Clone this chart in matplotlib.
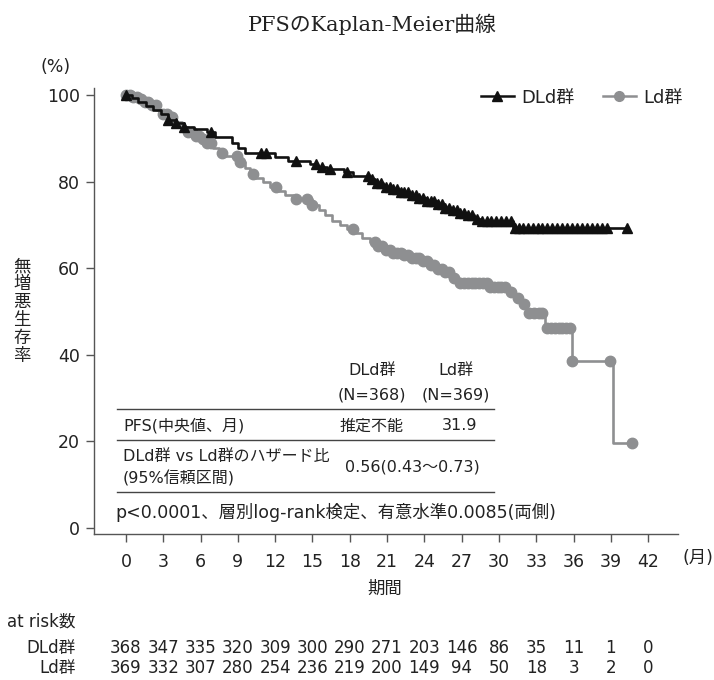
import numpy as np
import matplotlib
matplotlib.use("Agg")
import matplotlib.pyplot as plt
from matplotlib.lines import Line2D
from matplotlib.transforms import blended_transform_factory

plt.rcParams['font.family'] = ['DejaVu Sans', 'Noto Sans CJK JP']

W, H = 714, 680

# --- data ---
dld_t = [0, 0.5, 1.0, 1.6, 2.2, 2.8, 3.4, 4.0, 4.7, 5.5, 6.5, 7.2, 8.5, 9.0, 9.6,
         12.0, 13.0, 14.8, 15.4, 16.2, 17.5, 18.3, 19.6, 20.0, 20.7, 21.3, 22.0, 22.8,
         23.5, 24.2, 25.0, 25.5, 26.2, 26.8, 27.4, 28.0, 28.5, 31.1]
dld_s = [100, 99.2, 98.4, 97.5, 96.6, 95.5, 94.3, 93.5, 92.7, 92.2, 91.5, 90.2, 88.8,
         87.8, 86.6, 85.6, 84.8, 84.0, 83.4, 82.9, 82.3, 81.2, 80.6, 79.6, 78.8, 78.2,
         77.5, 76.9, 76.2, 75.5, 74.8, 74.0, 73.4, 72.8, 72.3, 71.3, 70.8, 69.2]
dld_end = 40.3
dld_cens = [0, 3.4, 4.0, 4.7, 6.8, 10.9, 11.3, 13.7, 15.3, 15.8, 16.4, 17.8,
            19.5, 19.8, 20.2, 20.5, 20.9, 21.2, 21.5, 21.8, 22.1, 22.4, 22.7, 23.0,
            23.3, 23.6, 23.9, 24.2, 24.5, 24.8, 25.1, 25.4, 25.7, 26.0, 26.3, 26.6,
            26.9, 27.2, 27.5, 27.8, 28.2, 28.6, 29.0, 29.4, 29.8, 30.2, 30.6, 31.0,
            31.3, 31.6, 31.9, 32.3, 32.7, 33.1, 33.5, 33.9, 34.3, 34.7, 35.1, 35.5,
            35.9, 36.3, 36.7, 37.1, 37.5, 37.9, 38.3, 38.7, 40.3]

ld_t = [0, 0.5, 1.0, 1.5, 2.0, 2.5, 3.0, 3.5, 4.0, 4.5, 5.0, 5.5, 6.0, 6.5, 7.0, 7.5,
        8.0, 9.2, 9.6, 10.0, 10.4, 11.0, 11.6, 12.2, 12.8, 13.4, 15.0, 15.5, 16.0,
        16.6, 17.2, 17.8, 18.5, 19.0, 19.6, 20.2, 20.8, 21.5, 22.2, 23.0, 23.8, 24.4,
        25.0, 25.6, 26.2, 26.8, 29.3, 30.8, 31.3, 31.8, 32.2, 33.7, 35.85, 39.2]
ld_s = [100, 99.5, 99.0, 98.3, 97.6, 96.6, 95.6, 94.8, 93.8, 92.6, 91.5, 90.6, 89.8,
        89.0, 87.8, 86.6, 85.8, 84.6, 83.2, 81.8, 80.8, 79.8, 78.8, 77.8, 76.8, 75.9,
        74.6, 73.4, 72.2, 71.0, 70.0, 69.0, 68.0, 67.0, 66.0, 65.0, 64.3, 63.6, 63.0,
        62.4, 61.6, 60.8, 59.8, 59.0, 57.8, 56.6, 55.7, 54.6, 53.2, 51.7, 49.6, 46.2,
        38.6, 19.6]
ld_end = 40.7
ld_cens = [0, 0.3, 0.6, 0.9, 1.2, 1.5, 1.8, 2.1, 2.4, 3.0, 3.3, 3.7, 5.0, 5.3, 5.6,
           5.9, 6.2, 6.5, 6.8, 7.7, 8.9, 9.2, 10.2, 12.1, 13.7, 14.6, 15.0, 18.3,
           20.0, 20.3, 20.6, 20.9, 21.2, 21.5, 21.8, 22.1, 22.4, 22.7, 23.0, 23.3,
           23.6, 23.9, 24.2, 24.5, 24.8, 25.1, 25.4, 25.7, 26.0, 26.4, 26.9, 27.2,
           27.5, 27.8, 28.1, 28.4, 28.7, 29.0, 29.3, 29.6, 29.9, 30.2, 30.5, 31.0,
           31.5, 32.0, 32.4, 32.8, 33.2, 33.5, 33.9, 34.2, 34.5, 34.8, 35.1, 35.4,
           35.7, 35.9, 38.9, 40.7]

xticks = list(range(0, 43, 3))
yticks = [0, 20, 40, 60, 80, 100]
risk_dld = [368, 347, 335, 320, 309, 300, 290, 271, 203, 146, 86, 35, 11, 1, 0]
risk_ld = [369, 332, 307, 280, 254, 236, 219, 200, 149, 94, 50, 18, 3, 2, 0]

black = '#111111'
gray = '#8e8f91'
axcol = '#555555'
tc = '#222222'


def km_at(times, surv, t):
    idx = np.searchsorted(times, t, side='right') - 1
    return np.asarray(surv)[idx]


fig = plt.figure(figsize=(W / 100, H / 100), dpi=100)
ax = fig.add_axes([94 / W, 1 - 534 / H, (678 - 94) / W, (534 - 88) / H])

for t, s, end, cens, col, mk in [(ld_t, ld_s, ld_end, ld_cens, gray, 'o'),
                                   (dld_t, dld_s, dld_end, dld_cens, black, '^')]:
    ax.step(t + [end], s + [s[-1]], where='post', color=col, lw=1.9)
    ax.plot(cens, km_at(t, s, cens), ls='none', marker=mk, ms=7.5,
            color=col, mec=col)

ax.set_xlim(-2.57, 44.4)
ax.set_ylim(-1.4, 101.6)
ax.set_xticks(xticks)
ax.set_yticks(yticks)
ax.tick_params(direction='out', length=6, width=1, color=axcol, labelsize=12.5,
               labelcolor=tc)
ax.tick_params(axis='x', pad=8)
ax.tick_params(axis='y', pad=4)
for sp in ['top', 'right']:
    ax.spines[sp].set_visible(False)
for sp in ['left', 'bottom']:
    ax.spines[sp].set_color(axcol)
    ax.spines[sp].set_linewidth(1)

handles = [Line2D([], [], color=black, marker='^', ms=7, lw=1.8),
           Line2D([], [], color=gray, marker='o', ms=7, lw=1.8)]
ax.legend(handles, ['DLd群', 'Ld群'], loc='upper right', ncol=2, frameon=False,
          fontsize=13, handlelength=1.8, columnspacing=1.6, handletextpad=0.4,
          bbox_to_anchor=(1.035, 1.035), labelcolor=tc)


def ftext(x, y, s, **kw):
    fig.text(x / W, 1 - y / H, s, **kw)


ftext(372, 24, 'PFSのKaplan-Meier曲線', ha='center', va='center', fontsize=15,
      family=['DejaVu Serif', 'Noto Sans CJK JP'], color=tc)
ftext(56, 67, '(%)', ha='center', va='center', fontsize=12.5, color=tc)
ftext(22, 311, '無\n増\n悪\n生\n存\n率', ha='center', va='center', fontsize=12.5,
      linespacing=1.0, color=tc)
ftext(385, 589, '期間', ha='center', va='center', fontsize=12.5, color=tc)
ftext(698, 558, '(月)', ha='center', va='center', fontsize=12.5, color=tc)

# table inside the plot
fs = 11.5
ftext(372, 371, 'DLd群', ha='center', va='center', fontsize=fs, color=tc)
ftext(456, 371, 'Ld群', ha='center', va='center', fontsize=fs, color=tc)
ftext(372, 395, '(N=368)', ha='center', va='center', fontsize=fs, color=tc)
ftext(456, 395, '(N=369)', ha='center', va='center', fontsize=fs, color=tc)
ftext(123, 426, 'PFS(中央値、月)', ha='left', va='center', fontsize=fs, color=tc)
ftext(372, 426, '推定不能', ha='center', va='center', fontsize=fs, color=tc)
ftext(460, 426, '31.9', ha='center', va='center', fontsize=fs, color=tc)
ftext(123, 457, 'DLd群 vs Ld群のハザード比', ha='left', va='center', fontsize=fs, color=tc)
ftext(123, 478, '(95%信頼区間)', ha='left', va='center', fontsize=fs, color=tc)
ftext(412, 467, '0.56(0.43〜0.73)', ha='center', va='center', fontsize=fs, color=tc)
ftext(115, 512, 'p<0.0001、層別log-rank検定、有意水準0.0085(両側)', ha='left',
      va='center', fontsize=12.5, color=tc)
for yl in [409, 440, 492]:
    fig.add_artist(Line2D([117 / W, 494 / W], [1 - yl / H, 1 - yl / H],
                          color='#444444', lw=1))

# at risk table
ftext(7, 622, 'at risk数', ha='left', va='center', fontsize=12, color=tc)
ftext(76, 648, 'DLd群', ha='right', va='center', fontsize=12, color=tc)
ftext(76, 668, 'Ld群', ha='right', va='center', fontsize=12, color=tc)
tr = blended_transform_factory(ax.transData, fig.transFigure)
for t, a, b in zip(xticks, risk_dld, risk_ld):
    ax.text(t, 1 - 648 / H, str(a), transform=tr, ha='center', va='center',
            fontsize=12, color=tc)
    ax.text(t, 1 - 668 / H, str(b), transform=tr, ha='center', va='center',
            fontsize=12, color=tc)

fig.savefig('out.png', dpi=100)
